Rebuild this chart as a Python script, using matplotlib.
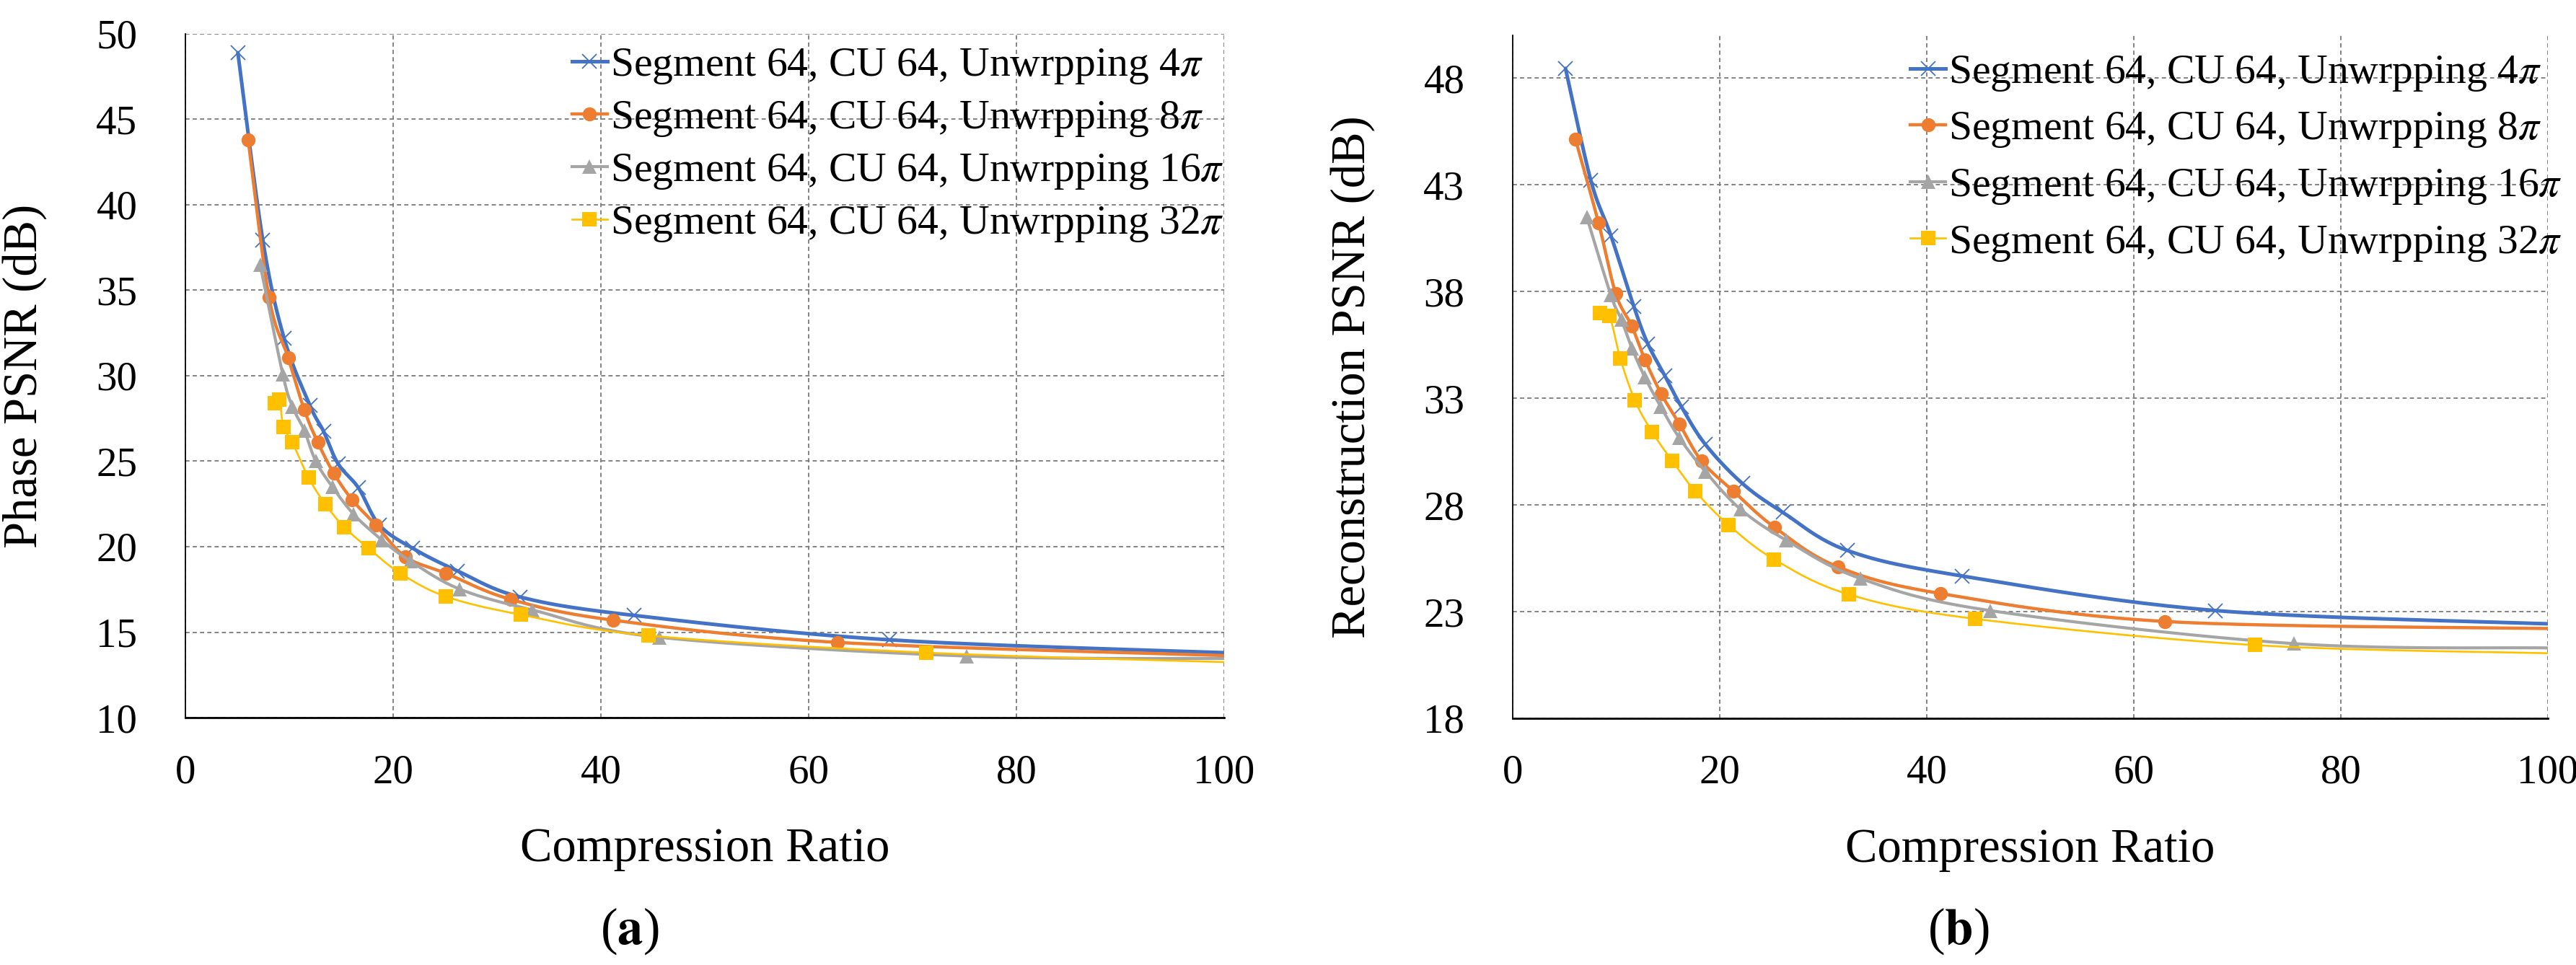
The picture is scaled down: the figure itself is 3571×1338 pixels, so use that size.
import numpy as np
import matplotlib
matplotlib.use('Agg')
import matplotlib.pyplot as plt

plt.rcParams['font.family'] = ['Liberation Serif', 'DejaVu Serif']
plt.rcParams['mathtext.fontset'] = 'stix'

# ---------------- data ----------------
labels = [r'Segment 64, CU 64, Unwrpping 4$\pi$',
          r'Segment 64, CU 64, Unwrpping 8$\pi$',
          r'Segment 64, CU 64, Unwrpping 16$\pi$',
          r'Segment 64, CU 64, Unwrpping 32$\pi$']
colors = ['#4472C4', '#ED7D31', '#A5A5A5', '#FFC000']
markers = ['x', 'o', '^', 's']

x_ticks = [0, 20, 40, 60, 80, 100]
a_y_ticks = [10, 15, 20, 25, 30, 35, 40, 45, 50]
b_y_ticks = [18, 23, 28, 33, 38, 43, 48]

# (a) Phase PSNR
a_4pi_x = [5.05, 7.45, 9.5, 12.0, 13.3, 14.7, 16.65, 18.7, 21.9, 26.2, 32.2, 43.2, 67.8]
a_4pi_y = [48.9, 37.95, 32.2, 28.25, 26.75, 24.85, 23.45, 21.25, 19.9, 18.58, 17.06, 15.98, 14.55]
a_8pi_x = [6.04, 8.05, 9.9, 11.45, 12.75, 14.28, 16.05, 18.36, 21.2, 25.1, 31.3, 41.2, 62.8]
a_8pi_y = [43.8, 34.6, 31.04, 28.0, 26.1, 24.3, 22.75, 21.25, 19.4, 18.44, 16.92, 15.7, 14.4]
a_16pi_x = [7.2, 9.37, 10.3, 11.45, 12.55, 14.15, 16.2, 18.9, 21.7, 26.4, 33.4, 45.6, 75.2]
a_16pi_y = [36.5, 30.1, 28.2, 26.8, 25.0, 23.5, 21.9, 20.4, 19.14, 17.52, 16.3, 14.7, 13.6]
a_32pi_x = [8.6, 9.06, 9.44, 10.3, 11.85, 13.45, 15.3, 17.65, 20.7, 25.1, 32.3, 44.6, 71.3]
a_32pi_y = [28.4, 28.6, 27.0, 26.1, 24.05, 22.5, 21.14, 19.9, 18.44, 17.08, 16.02, 14.8, 13.8]
a_edge_y = [13.8, 13.63, 13.46, 13.25]   # curve values where they leave the plot at x = 100

# (b) Reconstruction PSNR
b_4pi_x = [5.1, 7.55, 9.5, 11.7, 13.05, 14.7, 16.3, 18.6, 22.2, 26.1, 32.3, 43.4, 67.9]
b_4pi_y = [48.45, 43.2, 40.6, 37.3, 35.55, 34.05, 32.6, 30.84, 29.0, 27.65, 25.87, 24.67, 23.05]
b_8pi_x = [6.05, 8.3, 9.95, 11.5, 12.78, 14.35, 16.1, 18.26, 21.35, 25.3, 31.4, 41.3, 63.0]
b_8pi_y = [45.15, 41.2, 37.9, 36.38, 34.8, 33.2, 31.8, 30.05, 28.63, 26.95, 25.1, 23.85, 22.54]
b_16pi_x = [7.15, 9.48, 10.5, 11.52, 12.75, 14.3, 16.1, 18.6, 22.0, 26.4, 33.6, 46.1, 75.5]
b_16pi_y = [41.5, 37.83, 36.68, 35.34, 34.0, 32.6, 31.14, 29.57, 27.8, 26.35, 24.55, 23.05, 21.5]
b_32pi_x = [8.45, 9.35, 10.4, 11.8, 13.45, 15.4, 17.63, 20.84, 25.25, 32.45, 44.7, 71.7]
b_32pi_y = [36.98, 36.85, 34.85, 32.9, 31.43, 30.07, 28.64, 27.07, 25.45, 23.81, 22.66, 21.43]
b_edge_y = [22.43, 22.21, 21.3, 21.05]

x_edge = 100

# ---------------- styling ----------------
line_w = [3.6, 3.2, 3.0, 1.9]
mk_size = [15, 14, 15, 14.5]
FS_TICK = 41
FS_LEG = 41.5
FS_LAB = 48
FS_PANEL = 51

fig = plt.figure(figsize=(35.71, 13.38), dpi=100)
axA = fig.add_axes([257/3571, 1-995/1338, 1440/3571, 948/1338])
axB = fig.add_axes([2097/3571, 1-996/1338, 1435/3571, 947/1338])


def smooth_curve(ax, x, y, n=24):
    """Excel-like smoothed line (uniform Catmull-Rom in display space)."""
    pts = ax.transData.transform(np.column_stack([x, y]))
    P = np.vstack([pts[0], pts, pts[-1]])
    out = []
    t = np.linspace(0, 1, n, endpoint=False)
    for i in range(1, len(P) - 2):
        p0, p1, p2, p3 = P[i-1], P[i], P[i+1], P[i+2]
        c1 = p1 + (p2 - p0) / 6.0
        c2 = p2 - (p3 - p1) / 6.0
        tt = t[:, None]
        seg = ((1-tt)**3)*p1 + 3*((1-tt)**2)*tt*c1 + 3*(1-tt)*tt**2*c2 + tt**3*p2
        out.append(seg)
    out.append(P[-2][None, :])
    out = np.vstack(out)
    d = ax.transData.inverted().transform(out)
    return d[:, 0], d[:, 1]


def setup(ax, yticks, ylim, ylabel):
    ax.set_xlim(0, 100)
    ax.set_ylim(*ylim)
    ax.set_xticks(x_ticks)
    ax.set_yticks(yticks)
    ax.tick_params(axis='both', length=0, labelsize=FS_TICK)
    ax.tick_params(axis='y', pad=48)
    ax.tick_params(axis='x', pad=36)
    for s in ['top', 'right']:
        ax.spines[s].set_visible(False)
    ax.spines['left'].set_linewidth(1.3)
    ax.spines['bottom'].set_linewidth(2.0)
    ax.grid(True, color='#7a7a7a', linewidth=1.3, linestyle=(0, (3.2, 2.4)))
    ax.set_axisbelow(True)
    ax.set_xlabel('Compression Ratio', fontsize=FS_LAB, va='center')
    ax.xaxis.set_label_coords(0.5, -0.193)
    ax.set_ylabel(ylabel, fontsize=FS_LAB, va='center')
    ax.yaxis.set_label_coords(-0.155, 0.5)


setup(axA, a_y_ticks, (10, 50), 'Phase PSNR (dB)')
setup(axB, b_y_ticks, (18, 50), 'Reconstruction PSNR (dB)')

seriesA = [(a_4pi_x, a_4pi_y), (a_8pi_x, a_8pi_y), (a_16pi_x, a_16pi_y), (a_32pi_x, a_32pi_y)]
seriesB = [(b_4pi_x, b_4pi_y), (b_8pi_x, b_8pi_y), (b_16pi_x, b_16pi_y), (b_32pi_x, b_32pi_y)]

for ax, series, edges in [(axA, seriesA, a_edge_y), (axB, seriesB, b_edge_y)]:
    handles = []
    for i, ((xs, ys), ey) in enumerate(zip(series, edges)):
        sx, sy = smooth_curve(ax, list(xs) + [x_edge], list(ys) + [ey])
        ax.plot(sx, sy, color=colors[i], lw=line_w[i], solid_capstyle='round', zorder=3 + i)
        mew = 1.3 if markers[i] == 'x' else 0
        ax.plot(xs, ys, linestyle='none', marker=markers[i], ms=mk_size[i],
                color=colors[i], mew=mew, zorder=3 + i)
        h, = ax.plot([], [], color=colors[i], lw=line_w[i], marker=markers[i],
                     ms=mk_size[i], mew=mew)
        handles.append(h)
    ax.legend(handles, labels, loc='upper left',
              bbox_to_anchor=(0.372, 0.981) if ax is axA else (0.384, 0.973),
              frameon=False, fontsize=FS_LEG, handlelength=0.85,
              handletextpad=0.07, borderpad=0, borderaxespad=0,
              labelspacing=0.32 if ax is axA else 0.42)

fig.text(873/3571, 1 - 1291/1338, r'($\mathbf{a}$)', ha='center', va='center', fontsize=FS_PANEL)
fig.text(2715/3571, 1 - 1291/1338, r'($\mathbf{b}$)', ha='center', va='center', fontsize=FS_PANEL)

fig.savefig('out.png', dpi=100, facecolor='white')
